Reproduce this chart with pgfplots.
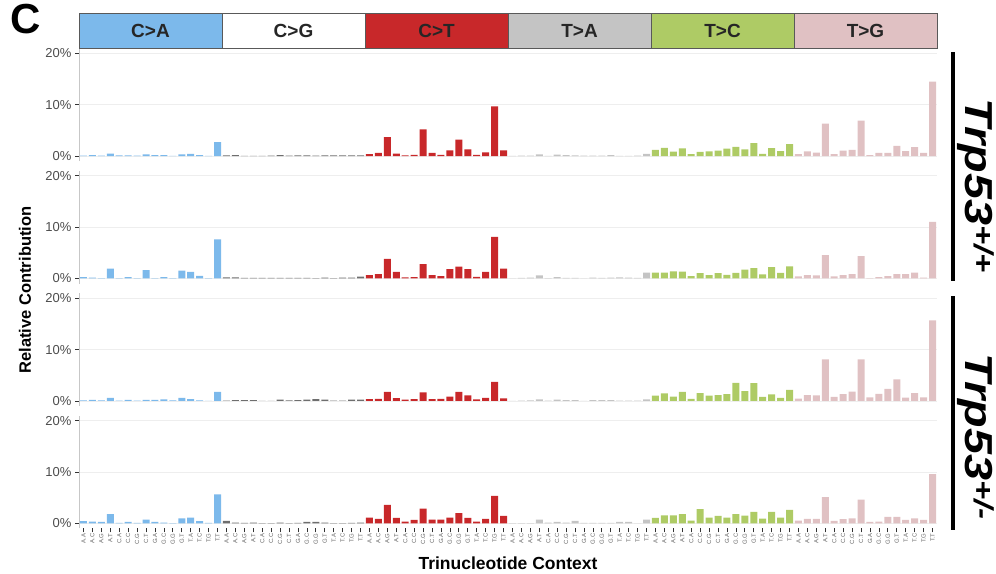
\documentclass[border=0pt]{standalone}
\usepackage{fontspec}
\setmainfont{Liberation Sans}
\usepackage{pgfplots}
\usepackage{pgfplotstable}
\pgfplotsset{compat=1.18}
\definecolor{caC}{RGB}{124,185,235}
\definecolor{cgC}{RGB}{110,110,110}
\definecolor{ctC}{RGB}{200,40,42}
\definecolor{taC}{RGB}{196,196,196}
\definecolor{tcC}{RGB}{174,203,101}
\definecolor{tgC}{RGB}{224,193,195}
\definecolor{gridc}{RGB}{238,238,238}

\pgfplotstableread{
pos CA CG CT TA TC TG
0 0.10 0.15 0.40 0.05 1.20 0.40
1 0.20 0.20 0.60 0.10 1.60 0.90
2 0.10 0.05 3.70 0.10 0.85 0.65
3 0.50 0.05 0.50 0.35 1.50 6.30
4 0.15 0.05 0.15 0.05 0.40 0.40
5 0.15 0.10 0.25 0.30 0.80 1.05
6 0.10 0.20 5.20 0.20 0.90 1.20
7 0.35 0.10 0.60 0.15 1.05 6.90
8 0.20 0.15 0.25 0.10 1.45 0.20
9 0.20 0.15 1.10 0.10 1.80 0.60
10 0.05 0.10 3.20 0.10 1.30 0.60
11 0.35 0.15 1.30 0.20 2.50 2.00
12 0.45 0.15 0.25 0.05 0.45 0.95
13 0.20 0.15 0.70 0.05 1.55 1.75
14 0.05 0.15 9.70 0.10 0.95 0.60
15 2.70 0.15 1.10 0.45 2.35 14.50
}\panelA
\pgfplotstableread{
pos CA CG CT TA TC TG
0 0.25 0.20 0.65 0.00 1.10 0.40
1 0.15 0.20 0.85 0.10 1.10 0.65
2 0.05 0.10 3.80 0.15 1.35 0.60
3 1.90 0.10 1.25 0.60 1.30 4.55
4 0.05 0.10 0.20 0.05 0.45 0.40
5 0.25 0.10 0.25 0.25 1.00 0.65
6 0.05 0.10 2.80 0.10 0.65 0.85
7 1.60 0.10 0.65 0.10 1.00 4.35
8 0.05 0.10 0.45 0.00 0.70 0.05
9 0.25 0.10 1.80 0.15 1.05 0.25
10 0.05 0.05 2.30 0.10 1.70 0.45
11 1.50 0.15 1.80 0.15 2.00 0.85
12 1.25 0.05 0.30 0.20 0.80 0.85
13 0.50 0.15 1.25 0.15 2.20 1.10
14 0.05 0.15 8.10 0.10 1.05 0.15
15 7.60 0.35 1.90 1.10 2.35 11.00
}\panelB
\pgfplotstableread{
pos CA CG CT TA TC TG
0 0.10 0.05 0.35 0.00 1.05 0.45
1 0.20 0.15 0.40 0.05 1.50 1.15
2 0.10 0.15 1.75 0.10 0.85 1.10
3 0.60 0.15 0.55 0.30 1.75 8.10
4 0.05 0.00 0.25 0.05 0.40 0.80
5 0.20 0.00 0.35 0.25 1.55 1.35
6 0.05 0.25 1.70 0.15 1.05 1.80
7 0.20 0.10 0.35 0.15 1.15 8.10
8 0.20 0.15 0.40 0.00 1.35 0.70
9 0.30 0.25 0.85 0.15 3.55 1.40
10 0.10 0.35 1.75 0.15 1.90 2.35
11 0.60 0.25 1.10 0.15 3.50 4.20
12 0.35 0.05 0.30 0.05 0.80 0.65
13 0.10 0.05 0.60 0.05 1.30 1.55
14 0.00 0.25 3.70 0.05 0.60 0.70
15 1.75 0.25 0.50 0.30 2.15 15.70
}\panelC
\pgfplotstableread{
pos CA CG CT TA TC TG
0 0.40 0.45 1.10 0.05 1.05 0.50
1 0.30 0.15 0.85 0.05 1.55 0.85
2 0.25 0.10 3.60 0.05 1.55 0.85
3 1.80 0.15 1.05 0.70 1.80 5.10
4 0.10 0.05 0.30 0.15 0.50 0.45
5 0.25 0.05 0.65 0.25 2.75 0.80
6 0.10 0.15 2.85 0.15 1.10 0.95
7 0.70 0.05 0.70 0.45 1.45 4.60
8 0.25 0.10 0.70 0.10 1.10 0.25
9 0.15 0.25 1.10 0.10 1.80 0.30
10 0.05 0.25 2.00 0.10 1.50 1.25
11 0.95 0.15 1.05 0.10 2.20 1.25
12 1.10 0.05 0.30 0.25 0.90 0.65
13 0.40 0.05 0.85 0.25 2.20 0.95
14 0.10 0.10 5.35 0.00 1.10 0.65
15 5.65 0.15 1.45 0.70 2.60 9.60
}\panelD

\pgfplotsset{
  panel/.style={
    width=858pt, height=112.9pt, scale only axis,
    anchor=south west, clip=false,
    xmin=-0.5, xmax=95.5, ymin=-1, ymax=21,
    ytick={0,10,20}, yticklabels={0\%,10\%,20\%},
    ymajorgrids, grid style={color=gridc, line width=0.7pt},
    axis x line*=bottom, axis y line*=left,
    x axis line style={draw=none},
    y axis line style={color=black!22, line width=0.8pt},
    tick align=outside, major tick length=4pt,
    tick style={color=black!80, line width=0.8pt},
    yticklabel style={font=\fontsize{13}{13}\selectfont, text=black!70},
    xtick=\empty,
  },
  bars/.style={ybar, bar width=0.78, bar shift=0pt, draw=none},
}

\newcommand{\panelbars}[1]{%
  \addplot[bars, fill=caC] table[x expr=\thisrow{pos}, y=CA] {#1};
  \addplot[bars, fill=cgC] table[x expr=\thisrow{pos}+16, y=CG] {#1};
  \addplot[bars, fill=ctC] table[x expr=\thisrow{pos}+32, y=CT] {#1};
  \addplot[bars, fill=taC] table[x expr=\thisrow{pos}+48, y=TA] {#1};
  \addplot[bars, fill=tcC] table[x expr=\thisrow{pos}+64, y=TC] {#1};
  \addplot[bars, fill=tgC] table[x expr=\thisrow{pos}+80, y=TG] {#1};
}

\begin{document}
\begin{tikzpicture}
\path[use as bounding box] (0,0) rectangle (996pt,-573pt);

\begin{axis}[panel, at={(79pt,-161.2pt)}]
\panelbars{\panelA}
\end{axis}
\begin{axis}[panel, at={(79pt,-283.5pt)}]
\panelbars{\panelB}
\end{axis}
\begin{axis}[panel, at={(79pt,-406.1pt)}]
\panelbars{\panelC}
\end{axis}
\begin{axis}[panel, at={(79pt,-528.4pt)},
  xtick={0,...,95},
  xticklabels={A.A,A.C,A.G,A.T,C.A,C.C,C.G,C.T,G.A,G.C,G.G,G.T,T.A,T.C,T.G,T.T,
               A.A,A.C,A.G,A.T,C.A,C.C,C.G,C.T,G.A,G.C,G.G,G.T,T.A,T.C,T.G,T.T,
               A.A,A.C,A.G,A.T,C.A,C.C,C.G,C.T,G.A,G.C,G.G,G.T,T.A,T.C,T.G,T.T,
               A.A,A.C,A.G,A.T,C.A,C.C,C.G,C.T,G.A,G.C,G.G,G.T,T.A,T.C,T.G,T.T,
               A.A,A.C,A.G,A.T,C.A,C.C,C.G,C.T,G.A,G.C,G.G,G.T,T.A,T.C,T.G,T.T,
               A.A,A.C,A.G,A.T,C.A,C.C,C.G,C.T,G.A,G.C,G.G,G.T,T.A,T.C,T.G,T.T},
  xticklabel style={rotate=90, anchor=east, font=\fontsize{6}{6}\selectfont, text=black!60, inner sep=1pt},
]
\panelbars{\panelD}
\end{axis}

% strip boxes
\foreach \i/\c/\t in {0/caC/C>A, 1/white/C>G, 2/ctC/C>T, 3/taC/T>A, 4/tcC/T>C, 5/tgC/T>G}{
  \draw[fill=\c, draw=black!65, line width=0.8pt] (79pt+143pt*\i,-13.5pt) rectangle (79pt+143pt*\i+143pt,-48.3pt);
  \node[font=\bfseries\fontsize{19}{19}\selectfont, text=black!85] at (79pt+143pt*\i+71.5pt,-31pt) {\t};
}

% panel letter
\node[font=\bfseries\fontsize{42}{42}\selectfont, anchor=north west, inner sep=0pt] at (10pt,-4pt) {C};

% axis titles
\node[font=\bfseries\fontsize{16.5}{16.5}\selectfont, rotate=90] at (25pt,-290pt) {Relative Contribution};
\node[font=\bfseries\fontsize{17.5}{17.5}\selectfont] at (508pt,-563pt) {Trinucleotide Context};

% right-hand group labels
\draw[line width=3.8pt] (953pt,-52pt) -- (953pt,-281pt);
\draw[line width=3.8pt] (953pt,-296pt) -- (953pt,-530pt);
\node[font=\bfseries\itshape\fontsize{39}{39}\selectfont, rotate=-90, inner sep=0pt] at (975.5pt,-186pt) {\scalebox{1.2}[1]{Trp53\textsuperscript{+/+}}};
\node[font=\bfseries\itshape\fontsize{39}{39}\selectfont, rotate=-90, inner sep=0pt] at (975.5pt,-437pt) {\scalebox{1.2}[1]{Trp53\textsuperscript{+/-}}};
\end{tikzpicture}
\end{document}
